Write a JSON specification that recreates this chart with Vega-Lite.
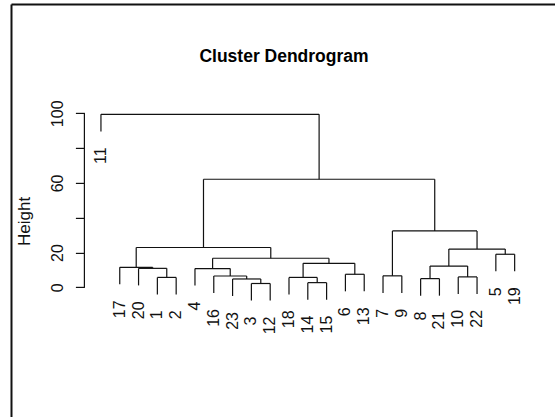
{
  "$schema": "https://vega.github.io/schema/vega-lite/v6.json",
  "width": 446.8,
  "height": 201.1,
  "autosize": {"type": "none"},
  "padding": {"left": 84.4, "top": 106.9, "right": 23.8, "bottom": 109},
  "background": "white",
  "config": {"view": {"stroke": null}, "font": "Liberation Sans"},
  "title": {
    "text": "Cluster Dendrogram",
    "anchor": "middle",
    "frame": "group",
    "fontSize": 17.5,
    "fontWeight": "bold",
    "font": "Liberation Sans",
    "color": "#000",
    "dx": -23.8,
    "offset": -76,
    "baseline": "alphabetic"
  },
  "datasets": {
    "merges": [
      {"x1": 4, "x2": 5, "h": 5.7, "h1": -4.1, "h2": -4.1},
      {"x1": 3, "x2": 4.5, "h": 10.9, "h1": 1.1, "h2": 5.7},
      {"x1": 2, "x2": 3.75, "h": 11.5, "h1": 1.7, "h2": 10.9},
      {"x1": 9, "x2": 10, "h": 2.2, "h1": -7.6, "h2": -7.6},
      {"x1": 8, "x2": 9.5, "h": 4.8, "h1": -5.0, "h2": 2.2},
      {"x1": 7, "x2": 8.75, "h": 6.5, "h1": -3.3, "h2": 4.8},
      {"x1": 6, "x2": 7.875, "h": 10.8, "h1": 1.0, "h2": 6.5},
      {"x1": 12, "x2": 13, "h": 2.7, "h1": -7.1, "h2": -7.1},
      {"x1": 11, "x2": 12.5, "h": 5.7, "h1": -4.1, "h2": 2.7},
      {"x1": 14, "x2": 15, "h": 7.5, "h1": -2.3, "h2": -2.3},
      {"x1": 11.75, "x2": 14.5, "h": 13.8, "h1": 5.7, "h2": 7.5},
      {"x1": 6.9375, "x2": 13.125, "h": 16.7, "h1": 10.8, "h2": 13.8},
      {"x1": 2.875, "x2": 10.03125, "h": 22.9, "h1": 11.5, "h2": 16.7},
      {"x1": 16, "x2": 17, "h": 6.6, "h1": -3.2, "h2": -3.2},
      {"x1": 18, "x2": 19, "h": 5.0, "h1": -4.8, "h2": -4.8},
      {"x1": 20, "x2": 21, "h": 6.0, "h1": -3.8, "h2": -3.8},
      {"x1": 18.5, "x2": 20.5, "h": 12.2, "h1": 5.0, "h2": 6.0},
      {"x1": 22, "x2": 23, "h": 19.0, "h1": 9.2, "h2": 9.2},
      {"x1": 19.5, "x2": 22.5, "h": 22.0, "h1": 12.2, "h2": 19.0},
      {"x1": 16.5, "x2": 21, "h": 32.4, "h1": 6.6, "h2": 22.0},
      {"x1": 6.453125, "x2": 18.75, "h": 62.1, "h1": 22.9, "h2": 32.4},
      {"x1": 1, "x2": 12.6015625, "h": 99.4, "h1": 89.6, "h2": 62.1}
    ],
    "leaves": [
      {"label": "11", "pos": 1, "bottom": 89.6},
      {"label": "17", "pos": 2, "bottom": 1.7},
      {"label": "20", "pos": 3, "bottom": 1.1},
      {"label": "1", "pos": 4, "bottom": -4.1},
      {"label": "2", "pos": 5, "bottom": -4.1},
      {"label": "4", "pos": 6, "bottom": 1.0},
      {"label": "16", "pos": 7, "bottom": -3.3},
      {"label": "23", "pos": 8, "bottom": -5.0},
      {"label": "3", "pos": 9, "bottom": -7.6},
      {"label": "12", "pos": 10, "bottom": -7.6},
      {"label": "18", "pos": 11, "bottom": -4.1},
      {"label": "14", "pos": 12, "bottom": -7.1},
      {"label": "15", "pos": 13, "bottom": -7.1},
      {"label": "6", "pos": 14, "bottom": -2.3},
      {"label": "13", "pos": 15, "bottom": -2.3},
      {"label": "7", "pos": 16, "bottom": -3.2},
      {"label": "9", "pos": 17, "bottom": -3.2},
      {"label": "8", "pos": 18, "bottom": -4.8},
      {"label": "21", "pos": 19, "bottom": -4.8},
      {"label": "10", "pos": 20, "bottom": -3.8},
      {"label": "22", "pos": 21, "bottom": -3.8},
      {"label": "5", "pos": 22, "bottom": 9.2},
      {"label": "19", "pos": 23, "bottom": 9.2}
    ]
  },
  "layer": [
    {
      "data": {"name": "merges"},
      "mark": {"type": "rule", "color": "#111", "strokeWidth": 1.2},
      "encoding": {
        "x": {"field": "x1", "type": "quantitative", "scale": {"domain": [0.12, 23.88], "nice": false, "zero": false}, "axis": null},
        "x2": {"field": "x2"},
        "y": {"field": "h", "type": "quantitative", "scale": {"domain": [-11.88, 103.68], "nice": false, "zero": false},
          "axis": {
            "values": [0, 20, 40, 60, 80, 100],
            "labelExpr": "datum.value == 40 || datum.value == 80 ? '' : datum.label",
            "domain": false,
            "grid": false,
            "tickSize": 9,
            "tickColor": "#111",
            "tickWidth": 1.2,
            "labelAngle": 270,
            "labelAlign": "center",
            "labelBaseline": "alphabetic",
            "labelPadding": 12.5,
            "labelFontSize": 16,
            "labelFont": "Liberation Sans",
            "labelColor": "#111",
            "labelOverlap": false,
            "labelBound": false,
            "labelFlush": false,
            "title": "Height",
            "titleFont": "Liberation Sans",
            "titleFontSize": 17,
            "titleFontWeight": "normal",
            "titleColor": "#111",
            "titleAngle": 270,
            "titleAlign": "center",
            "titleBaseline": "middle",
            "titleX": -60,
            "titleY": 114
          }
        }
      }
    },
    {
      "data": {"name": "merges"},
      "mark": {"type": "rule", "color": "#111", "strokeWidth": 1.2},
      "encoding": {
        "x": {"field": "x1", "type": "quantitative"},
        "y": {"field": "h1", "type": "quantitative"},
        "y2": {"field": "h"}
      }
    },
    {
      "data": {"name": "merges"},
      "mark": {"type": "rule", "color": "#111", "strokeWidth": 1.2},
      "encoding": {
        "x": {"field": "x2", "type": "quantitative"},
        "y": {"field": "h2", "type": "quantitative"},
        "y2": {"field": "h"}
      }
    },
    {
      "data": {"values": [{"from": 0, "to": 100}]},
      "mark": {"type": "rule", "color": "#111", "strokeWidth": 1.2},
      "encoding": {
        "x": {"datum": 0.12, "type": "quantitative"},
        "y": {"field": "from", "type": "quantitative"},
        "y2": {"field": "to"}
      }
    },
    {
      "data": {"name": "leaves"},
      "mark": {"type": "text", "angle": 270, "align": "right", "baseline": "middle", "dx": -16, "fontSize": 16, "font": "Liberation Sans", "color": "#111"},
      "encoding": {
        "x": {"field": "pos", "type": "quantitative"},
        "y": {"field": "bottom", "type": "quantitative"},
        "text": {"field": "label"}
      }
    },
    {
      "data": {"values": [{"x": -3.757, "y": 162.53, "y2": -75.1}]},
      "mark": {"type": "rule", "color": "#111", "strokeWidth": 2},
      "encoding": {
        "x": {"field": "x", "type": "quantitative"},
        "y": {"field": "y", "type": "quantitative"},
        "y2": {"field": "y2"}
      }
    },
    {
      "data": {"values": [{"x": -3.757, "x2": 25.2, "y": 162.53}]},
      "mark": {"type": "rule", "color": "#111", "strokeWidth": 2},
      "encoding": {
        "x": {"field": "x", "type": "quantitative"},
        "x2": {"field": "x2"},
        "y": {"field": "y", "type": "quantitative"}
      }
    }
  ]
}
